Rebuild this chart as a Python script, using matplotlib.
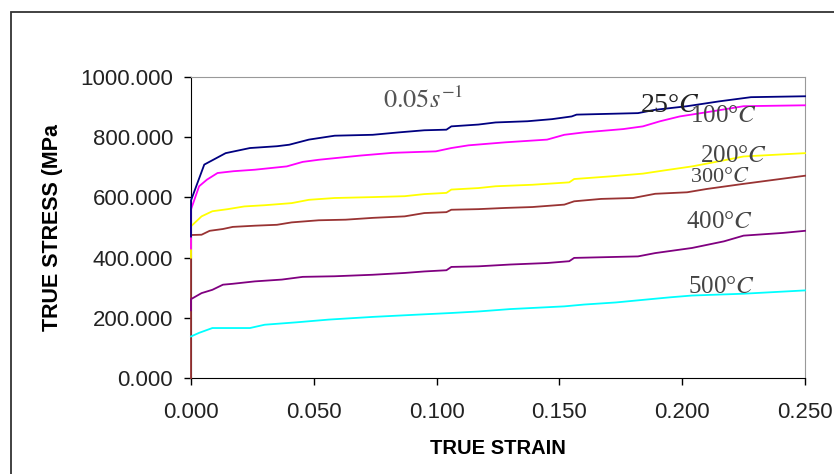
import numpy as np
import matplotlib
matplotlib.use("Agg")
import matplotlib.pyplot as plt
from matplotlib.patches import Rectangle

plt.rcParams["mathtext.fontset"] = "stix"

# True strain / true stress curves (MPa)
strain_25 = [0.0, 0.0, 0.0054, 0.0141, 0.024, 0.035, 0.040, 0.048, 0.0585, 0.074, 0.0846, 0.095,
             0.104, 0.106, 0.117, 0.124, 0.137, 0.147, 0.155, 0.157, 0.182, 0.189, 0.202, 0.215, 0.228, 0.25]
stress_25 = [470, 590, 709, 747, 764, 770, 775, 792, 805, 808, 816, 823,
             825, 836, 842, 849, 853, 860, 869, 875, 880, 891, 903, 919, 933, 936]

strain_100 = [0.0, 0.0, 0.0033, 0.0065, 0.0108, 0.0173, 0.026, 0.039, 0.0455, 0.052, 0.069, 0.082, 0.0997,
              0.106, 0.113, 0.128, 0.145, 0.152, 0.160, 0.176, 0.184, 0.191, 0.199, 0.210, 0.225, 0.25]
stress_100 = [430, 560, 637, 659, 681, 687, 692, 703, 718, 725, 739, 748, 753,
              764, 773, 783, 792, 808, 816, 827, 836, 853, 869, 883, 903, 906]

strain_200 = [0.0, 0.0, 0.0043, 0.0087, 0.015, 0.0217, 0.030, 0.041, 0.048, 0.0585, 0.074, 0.087, 0.095,
              0.104, 0.106, 0.117, 0.124, 0.139, 0.154, 0.156, 0.171, 0.184, 0.193, 0.204, 0.215, 0.225, 0.25]
stress_200 = [400, 504, 537, 554, 561, 570, 574, 581, 592, 598, 601, 604, 611,
              615, 626, 631, 637, 642, 650, 661, 670, 679, 690, 703, 720, 736, 747]

strain_300 = [0.0, 0.0, 0.0043, 0.0076, 0.013, 0.017, 0.026, 0.035, 0.041, 0.052, 0.063, 0.074, 0.087,
              0.095, 0.104, 0.106, 0.117, 0.128, 0.139, 0.152, 0.156, 0.167, 0.180, 0.189, 0.202, 0.210,
              0.225, 0.25]
stress_300 = [0, 475, 476, 489, 495, 502, 506, 509, 517, 524, 526, 532, 537,
              548, 551, 559, 561, 565, 568, 576, 587, 595, 598, 612, 617, 628,
              645, 672]

strain_400 = [0.0, 0.0, 0.0043, 0.0087, 0.013, 0.017, 0.026, 0.037, 0.0455, 0.0585, 0.074, 0.087, 0.095,
              0.104, 0.106, 0.117, 0.130, 0.145, 0.154, 0.156, 0.182, 0.189, 0.204, 0.217, 0.225, 0.241, 0.25]
stress_400 = [225, 262, 282, 293, 310, 313, 321, 327, 336, 338, 343, 349, 354,
              358, 369, 371, 377, 382, 388, 399, 404, 415, 432, 454, 473, 482, 489]

strain_500 = [0.0, 0.0033, 0.0087, 0.024, 0.030, 0.043, 0.056, 0.074, 0.091, 0.106, 0.117, 0.130,
              0.152, 0.160, 0.173, 0.182, 0.195, 0.204, 0.225, 0.25]
stress_500 = [138, 150, 166, 166, 177, 185, 194, 203, 210, 216, 221, 229,
              238, 244, 251, 258, 268, 274, 280, 291]

series = [
    (strain_300, stress_300, "#993333"),
    (strain_400, stress_400, "#800080"),
    (strain_500, stress_500, "#00FFFF"),
    (strain_200, stress_200, "#FFFF00"),
    (strain_100, stress_100, "#FF00FF"),
    (strain_25, stress_25, "#000080"),
]

# Curve labels (text, x, y in data units, font size, colour)
labels = [
    ("25°$C$", 0.1828, 884, 20, "#222222"),
    ("100°$C$", 0.2032, 850, 18, "#444444"),
    ("200°$C$", 0.2073, 718, 18, "#444444"),
    ("300°$C$", 0.2032, 651, 16, "#444444"),
    ("400°$C$", 0.2016, 498, 18, "#444444"),
    ("500°$C$", 0.2024, 282, 18, "#444444"),
]

fig = plt.figure(figsize=(8.34, 4.74), dpi=100)
fig.patches.append(Rectangle((11 / 834, -0.1), 1.2, 1 - 12 / 474 + 0.1, transform=fig.transFigure,
                             fill=False, edgecolor="#333333", linewidth=1.3))

ax = fig.add_axes([191 / 834, 96 / 474, 614 / 834, 301 / 474])
for x, y, c in series:
    ax.plot(x, y, color=c, linewidth=1.3, zorder=3, clip_on=False)

ax.set_xlim(0, 0.25)
ax.set_ylim(0, 1000)
ax.set_xticks(np.arange(0, 0.2501, 0.05))
ax.set_yticks(np.arange(0, 1001, 200))
ax.set_xticklabels([f"{v:.3f}" for v in np.arange(0, 0.2501, 0.05)])
ax.set_yticklabels([f"{v:.3f}" for v in np.arange(0, 1001, 200)])
ax.tick_params(direction="out", length=5, width=1, labelsize=16, colors="black")
ax.tick_params(axis="x", pad=12)
ax.tick_params(axis="y", pad=8)
for t in ax.get_xticklabels() + ax.get_yticklabels():
    t.set_fontfamily("Liberation Sans")
    t.set_color("#222222")

ax.spines["left"].set_color("black")
ax.spines["bottom"].set_color("black")
ax.spines["top"].set_color("#999999")
ax.spines["right"].set_color("#999999")

ax.set_xlabel("TRUE STRAIN", fontsize=14.5, fontweight="bold", family="Liberation Sans", labelpad=12)
ax.set_ylabel("TRUE STRESS (MPa", fontsize=15.5, fontweight="bold", family="Liberation Sans", labelpad=12)

ax.text(0.0782, 897, "$0.05s^{-1}$", fontsize=19, color="#555555", family="Liberation Serif")
for txt, x, y, fs, col in labels:
    ax.text(x, y, txt, fontsize=fs, color=col, family="Liberation Serif")

fig.savefig("out.png", dpi=100)
